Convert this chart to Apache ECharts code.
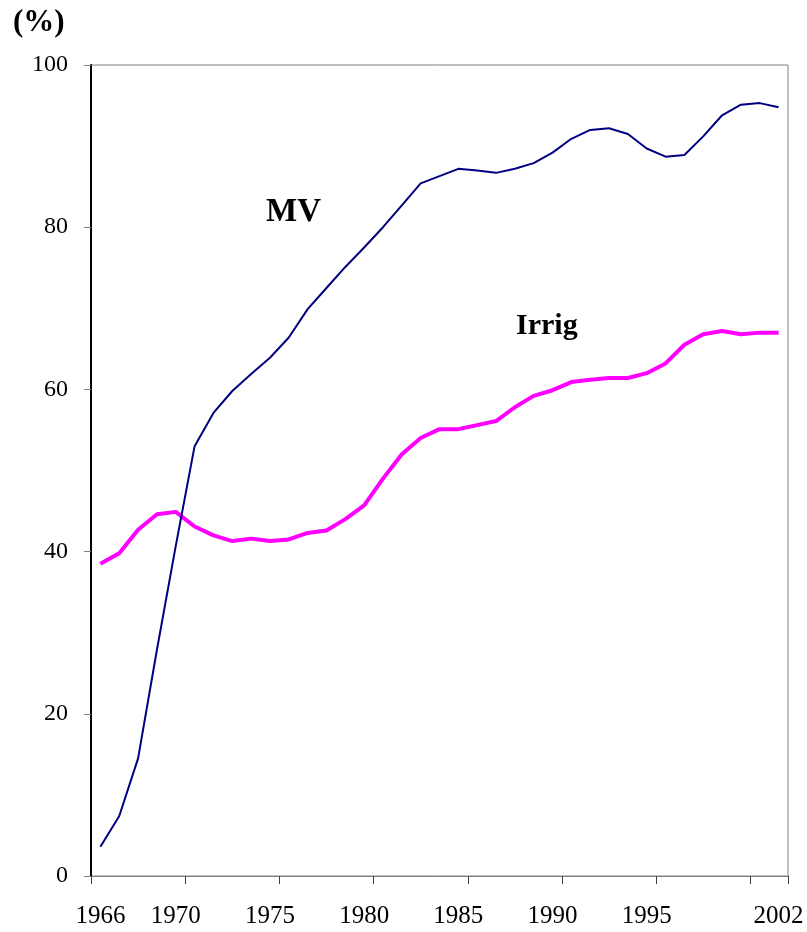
<!DOCTYPE html>
<html>
<head>
<meta charset="utf-8">
<script src="https://cdn.jsdelivr.net/npm/echarts@6/dist/echarts.min.js"></script>
<style>html,body{margin:0;padding:0;background:#fff;}#c{width:807px;height:932px;}</style>
</head>
<body>
<div id="c"></div>
<script>
var years = [];
for (var y = 1966; y <= 2002; y++) years.push(String(y));
var shownYearLabels = ['1966','1970','1975','1980','1985','1990','1995','2002'];
var mvValues = [3.6, 7.4, 14.5, 27.9, 40.7, 53.0, 57.1, 59.8, 61.9, 63.9,
  66.4, 69.9, 72.5, 75.1, 77.5, 80.0, 82.7, 85.4, 86.3, 87.2,
  87.0, 86.7, 87.2, 87.9, 89.2, 90.9, 92.0, 92.2, 91.5, 89.7,
  88.7, 88.9, 91.2, 93.8, 95.1, 95.3, 94.8];
var irrigValues = [38.5, 39.8, 42.7, 44.6, 44.9, 43.1, 42.0, 41.3, 41.6, 41.3,
  41.5, 42.3, 42.6, 44.0, 45.7, 49.0, 52.0, 54.0, 55.1, 55.1,
  55.6, 56.1, 57.8, 59.2, 59.9, 60.9, 61.2, 61.4, 61.4, 62.0,
  63.2, 65.5, 66.8, 67.2, 66.8, 67.0, 67.0];
var yTicks = [0, 20, 40, 60, 80, 100];

var chart = echarts.init(document.getElementById('c'), null, {renderer: 'canvas'});
var font = 'Liberation Serif';
chart.setOption({
  animation: false,
  backgroundColor: '#fff',
  grid: {left: 91, right: 19, top: 65, bottom: 56, show: true, borderColor: '#808080', borderWidth: 1, containLabel: false},
  xAxis: {
    type: 'category',
    data: years,
    boundaryGap: true,
    axisLine: {lineStyle: {color: '#808080', width: 1}},
    axisTick: {show: true, interval: function (i) { return i % 5 === 0; }, length: 8, lineStyle: {color: '#404040', width: 1}},
    axisLabel: {
      interval: function (i, v) { return shownYearLabels.indexOf(v) >= 0; },
      fontFamily: font, fontSize: 25, color: '#000', margin: 28
    },
    splitLine: {show: false}
  },
  yAxis: {
    type: 'value',
    min: yTicks[0], max: yTicks[yTicks.length - 1], interval: 20,
    axisLine: {show: true, lineStyle: {color: '#000', width: 2}},
    axisTick: {show: true, length: 7, lineStyle: {color: '#808080', width: 1}},
    axisLabel: {fontFamily: font, fontSize: 24, color: '#000', margin: 23},
    splitLine: {show: false}
  },
  series: [
    {name: 'MV', type: 'line', data: mvValues, symbol: 'none', lineStyle: {color: '#000080', width: 2}, z: 3},
    {name: 'Irrig', type: 'line', data: irrigValues, symbol: 'none', lineStyle: {color: '#FF00FF', width: 4}, z: 2}
  ],
  graphic: [
    {type: 'text', left: 13, top: 7, style: {text: '(%)', font: 'bold 31px "Liberation Serif"', fill: '#000'}},
    {type: 'text', left: 266, top: 196, style: {text: 'MV', font: 'bold 33px "Liberation Serif"', fill: '#000'}},
    {type: 'text', left: 516, top: 311, style: {text: 'Irrig', font: 'bold 30px "Liberation Serif"', fill: '#000'}}
  ]
});
</script>
</body>
</html>
